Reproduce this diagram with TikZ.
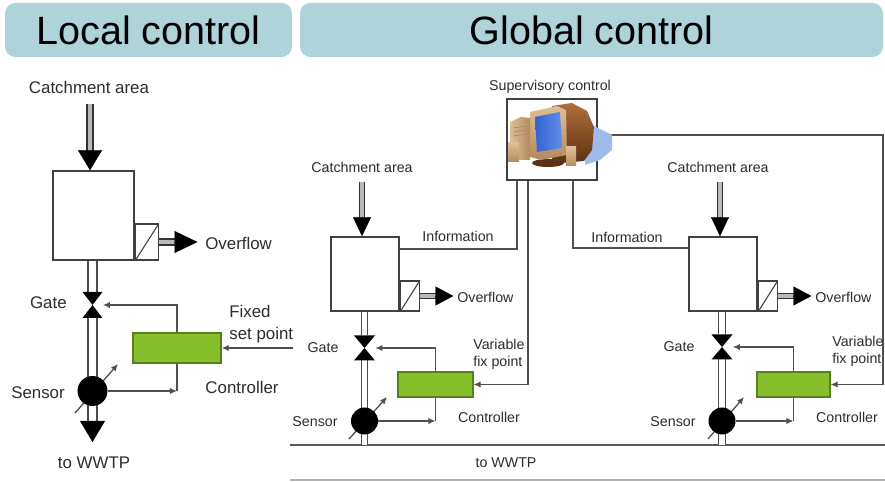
\documentclass[tikz,border=0pt]{standalone}
\usepackage{fontspec}
\setmainfont{Liberation Sans}
\usetikzlibrary{arrows.meta,positioning}

\newcommand{\unitpx}{0.02cm}

\definecolor{headblue}{RGB}{174,211,216}
\definecolor{ctrlgreen}{RGB}{134,190,44}
\definecolor{ctrledge}{RGB}{86,128,30}
\definecolor{textgray}{RGB}{45,45,45}
\definecolor{linegray}{RGB}{80,80,80}
\definecolor{shadowblue}{RGB}{160,186,236}
\definecolor{casebrown}{RGB}{92,48,20}
\definecolor{caselight}{RGB}{176,112,58}
\definecolor{bezel}{RGB}{222,190,150}
\definecolor{bezeldark}{RGB}{180,138,96}
\definecolor{screenblue}{RGB}{52,100,210}
\definecolor{screenlight}{RGB}{96,140,232}

\tikzset{%
  % boxes
  headbar/.style  = {rectangle, rounded corners=6pt, fill=headblue, inner sep=0pt, font=\fontsize{22.5}{24}\selectfont},
  tank/.style     = {rectangle, draw=black!75, line width=0.9pt, fill=white, inner sep=0pt},
  weir/.style     = {tank, path picture={\draw[black!75, line width=0.6pt] (path picture bounding box.south west) -- (path picture bounding box.north east);}},
  ctrl/.style     = {rectangle, draw=ctrledge, line width=0.7pt, fill=ctrlgreen, inner sep=0pt},
  gate/.style     = {rectangle, fill=white, inner sep=0pt, path picture={\fill[black] (path picture bounding box.north west) -- (path picture bounding box.north east) -- (path picture bounding box.south west) -- (path picture bounding box.south east) -- cycle;}},
  sensor/.style   = {circle, fill=black, inner sep=0pt},
  % text
  lbl/.style      = {font=\fontsize{9.6}{12.5}\selectfont, text=textgray, inner sep=0pt},
  lblsmall/.style = {font=\fontsize{8.1}{9.8}\selectfont, text=textgray, inner sep=0pt},
  % pipes, flows and signals
  pipeL/.style    = {draw=black!70, line width=0.8pt, double=white, double distance=4.2pt},
  pipeG/.style    = {draw=black!70, line width=0.7pt, double=white, double distance=3.1pt},
  flowL/.style    = {draw=black!80, line width=0.9pt, double=gray!55, double distance=2.6pt},
  flowG/.style    = {draw=black!80, line width=0.75pt, double=gray!55, double distance=1.9pt},
  bighead/.style 2 args = {draw=black, line width=0.1pt, -{Triangle[length=#1, width=#2]}},
  signal/.style   = {draw=linegray, line width=0.75pt},
  sig/.style      = {signal, -{Latex[length=4pt, width=3.6pt]}},
}

\begin{document}
\begin{tikzpicture}[x=\unitpx, y=-\unitpx]
  \fill[white] (0,0) rectangle (885,482);
  \useasboundingbox (0,0) rectangle (885,482);

  % Title bars
  \node (localhead)  [headbar, minimum width=287*\unitpx, minimum height=54*\unitpx] at (148.5,30) {Local control};
  \node (globalhead) [headbar, minimum width=583*\unitpx, minimum height=54*\unitpx] at (591.5,30) {Global control};

  %%%% Local control
  \node (catchL) [lbl] at (89,87) {Catchment area};
  \node (tankL)  [tank, minimum width=81*\unitpx, minimum height=89*\unitpx] at (93.5,215.5) {};
  \node (weirL)  [weir, minimum width=23*\unitpx, minimum height=36*\unitpx, anchor=south west] at (tankL.south east) {};
  \coordinate (inL)  at (90,104);
  \coordinate (outL) at (92.5,442);
  \coordinate (sensLc) at (92.5,391);

  % inflow, overflow, outlet
  \path (inL |- tankL.north) coordinate (inLend) ++(0,-20) coordinate (inLhd);
  \draw[flowL] (inL) -- ([yshift=-1pt]inLhd);
  \draw[bighead={11.4pt}{13.7pt}] (inLhd) -- (inLend);
  \path (weirL.east) ++(38,0) coordinate (ovLend) ++(-23,0) coordinate (ovLhd);
  \draw[flowL] (weirL.east) -- ([xshift=1pt]ovLhd);
  \draw[bighead={13pt}{12.5pt}] (ovLhd) -- (ovLend);
  \path (outL) ++(0,-21) coordinate (outLhd);
  \draw[pipeL] (tankL.south -| outL) -- (outLhd);
  \draw[bighead={12pt}{14.2pt}] (outLhd) -- (outL);
  \draw[sig] ([shift={(-17.5,22)}]sensLc) -- ([shift={(25.5,-27)}]sensLc);

  \node (gateL) [gate, minimum width=20*\unitpx, minimum height=26*\unitpx] at (92.5,305) {};
  \node (sensL) [sensor, minimum size=30*\unitpx] at (sensLc) {};
  \node (ctrlL) [ctrl, minimum width=88*\unitpx, minimum height=30*\unitpx] at (177,348) {};
  \coordinate (setL) at (293,348);

  % control loop
  \draw[sig] (ctrlL.north) |- (gateL.east);
  \draw[signal] (ctrlL.south) -- (ctrlL.south |- sensL.east);
  \draw[sig] (sensL.east) -- (ctrlL.south |- sensL.east);
  \draw[sig] (setL) -- (ctrlL.east);

  \node (ovLtxt)   [lbl, anchor=west] at (205,243) {Overflow};
  \node (gateLtxt) [lbl, anchor=east] at (67,303) {Gate};
  \node (sensLtxt) [lbl] at (38,393) {Sensor};
  \node (ctrlLtxt) [lbl] at (242,387) {Controller};
  \node (setLtxt)  [lbl, align=left, anchor=west] at (229,324) {Fixed\\set point};
  \node (wwtpLtxt) [lbl] at (94,463) {to WWTP};

  %%%% Global control
  \coordinate (wwtpW) at (290,445);
  \coordinate (wwtpE) at (885,445);
  \coordinate (baseW) at (290,480);
  \coordinate (baseE) at (885,480);
  \draw[draw=black!65, line width=0.9pt] (wwtpW) -- (wwtpE);
  \draw[draw=black!30, line width=0.8pt] (baseW) -- (baseE);
  \node (wwtpGtxt) [lblsmall] at (506,463) {to WWTP};

  % supervisory station
  \node (supbox) [tank, line width=0.7pt, minimum width=90*\unitpx, minimum height=81*\unitpx] at (552,139.5) {};
  \node (suptxt) [lblsmall] at (550,87) {Supervisory control};

  % unit A
  \node (catchA) [lblsmall] at (362,167) {Catchment area};
  \node (tankA)  [tank, minimum width=68*\unitpx, minimum height=74*\unitpx] at (365,274) {};
  \node (weirA)  [weir, minimum width=19*\unitpx, minimum height=30*\unitpx, anchor=south west] at (tankA.south east) {};
  \coordinate (inA)  at (362,182);
  \coordinate (outA) at (364.5,445);
  \coordinate (sensAc) at (364.5,421);

  \path (inA |- tankA.north) coordinate (inAend) ++(0,-19) coordinate (inAhd);
  \draw[flowG] (inA) -- ([yshift=-1pt]inAhd);
  \draw[bighead={10.8pt}{10.2pt}] (inAhd) -- (inAend);
  \path (weirA.east) ++(33,0) coordinate (ovAend) ++(-18,0) coordinate (ovAhd);
  \draw[flowG] (weirA.east) -- ([xshift=1pt]ovAhd);
  \draw[bighead={10.2pt}{10.8pt}] (ovAhd) -- (ovAend);
  \draw[pipeG] (tankA.south -| outA) -- (outA);
  \draw[sig] ([shift={(-15.5,18)}]sensAc) -- ([shift={(22.5,-24)}]sensAc);

  \node (gateA) [gate, minimum width=21*\unitpx, minimum height=25*\unitpx] at (364.5,348) {};
  \node (sensA) [sensor, minimum size=27*\unitpx] at (sensAc) {};
  \node (ctrlA) [ctrl, minimum width=75*\unitpx, minimum height=25*\unitpx] at (435.5,384.5) {};
  \coordinate (infoAc) at (517,249);
  \coordinate (varAc)  at (528,384.5);

  \draw[sig] (ctrlA.north) |- (gateA.east);
  \draw[signal] (ctrlA.south) -- (ctrlA.south |- sensA.east);
  \draw[sig] (sensA.east) -- (ctrlA.south |- sensA.east);
  \draw[signal] (supbox.south -| infoAc) -- (infoAc) -- (tankA.east |- infoAc);
  \draw[sig] (supbox.south -| varAc) -- (varAc) -- (ctrlA.east);

  \node (ovAtxt)   [lblsmall, anchor=west] at (457,297) {Overflow};
  \node (gateAtxt) [lblsmall] at (323,348) {Gate};
  \node (sensAtxt) [lblsmall] at (315,422) {Sensor};
  \node (ctrlAtxt) [lblsmall] at (489,417) {Controller};
  \node (varAtxt)  [lblsmall, align=left, anchor=west] at (473,354) {Variable\\fix point};
  \node (infoAtxt) [lblsmall] at (458,236) {Information};

  % unit B
  \node (catchB) [lblsmall] at (718,167) {Catchment area};
  \node (tankB)  [tank, minimum width=68*\unitpx, minimum height=74*\unitpx] at (723,274) {};
  \node (weirB)  [weir, minimum width=19*\unitpx, minimum height=30*\unitpx, anchor=south west] at (tankB.south east) {};
  \coordinate (inB)  at (720,182);
  \coordinate (outB) at (722,445);
  \coordinate (sensBc) at (722,421);

  \path (inB |- tankB.north) coordinate (inBend) ++(0,-19) coordinate (inBhd);
  \draw[flowG] (inB) -- ([yshift=-1pt]inBhd);
  \draw[bighead={10.8pt}{10.2pt}] (inBhd) -- (inBend);
  \path (weirB.east) ++(33,0) coordinate (ovBend) ++(-18,0) coordinate (ovBhd);
  \draw[flowG] (weirB.east) -- ([xshift=1pt]ovBhd);
  \draw[bighead={10.2pt}{10.8pt}] (ovBhd) -- (ovBend);
  \draw[pipeG] (tankB.south -| outB) -- (outB);
  \draw[sig] ([shift={(-14,18)}]sensBc) -- ([shift={(22,-24)}]sensBc);

  \node (gateB) [gate, minimum width=21*\unitpx, minimum height=25*\unitpx] at (722,347) {};
  \node (sensB) [sensor, minimum size=27*\unitpx] at (sensBc) {};
  \node (ctrlB) [ctrl, minimum width=73*\unitpx, minimum height=25*\unitpx] at (793.5,384.5) {};
  \coordinate (infoBc) at (573,248);
  \coordinate (varBc)  at (883,135);

  \draw[sig] (ctrlB.north) |- (gateB.east);
  \draw[signal] (ctrlB.south) -- (ctrlB.south |- sensB.east);
  \draw[sig] (sensB.east) -- (ctrlB.south |- sensB.east);
  \draw[signal] (supbox.south -| infoBc) |- (tankB.west |- infoBc);
  \draw[sig] (supbox.east |- varBc) -- (varBc) |- (ctrlB.east);

  \node (ovBtxt)   [lblsmall, anchor=west] at (815,297) {Overflow};
  \node (gateBtxt) [lblsmall] at (679,347) {Gate};
  \node (sensBtxt) [lblsmall] at (673,422) {Sensor};
  \node (ctrlBtxt) [lblsmall] at (847,417) {Controller};
  \node (varBtxt)  [lblsmall, align=left, anchor=west] at (832,351) {Variable\\fix point};
  \node (infoBtxt) [lblsmall] at (627,237) {Information};

  % computer inside the supervisory box
  \fill[shadowblue] (584,121) -- (600,129) -- (612,135) -- (612,150) -- (600,160) -- (585,165) -- cycle;
  \fill[casebrown] (548,163) ellipse [x radius=16, y radius=4];
  \shade[top color=caselight, bottom color=casebrown] (552,106) -- (572,103) -- (587,111) -- (594,127) -- (592,150) -- (584,161) -- (560,163) -- (552,159) -- cycle;
  \shade[top color=bezel, bottom color=bezeldark] (530,112) -- (557,106) -- (566,110) -- (567,155) -- (541,160) -- (530,157) -- cycle;
  \shade[left color=screenblue, right color=screenlight] (535,117) -- (560,112) -- (562,148) -- (537,152) -- cycle;
  \shade[left color=bezel, right color=bezeldark] (510,122) -- (521,117) -- (530,118) -- (530,160) -- (510,160) -- cycle;
  \draw[bezeldark, line width=0.4pt] (513,128) -- (527,126) (513,132) -- (527,130) (513,136) -- (527,134);
  \shade[top color=bezel, bottom color=bezeldark] (508,143) rectangle (519,162);
  \shade[top color=bezel, bottom color=bezeldark] (566,147) rectangle (576,166);
\end{tikzpicture}
\end{document}
